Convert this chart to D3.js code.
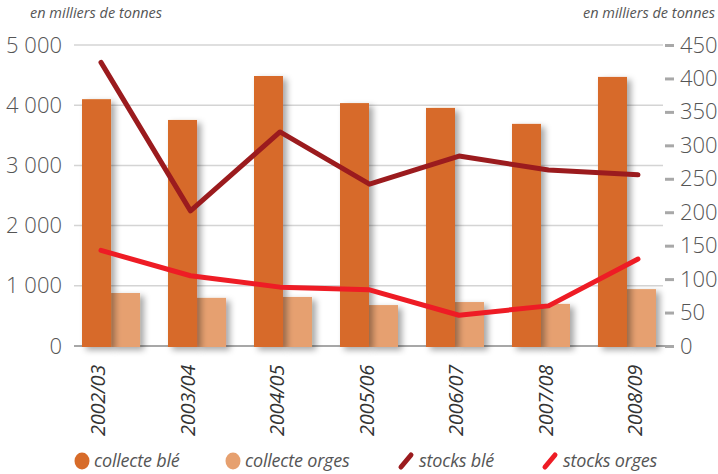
<!DOCTYPE html>
<html>
<head>
<meta charset="utf-8">
<script src="https://d3js.org/d3.v7.min.js"></script>
<style>
  body { margin: 0; background: #fff; }
  svg { display: block; font-family: "Open Sans", sans-serif; }
</style>
</head>
<body>
<div id="chartDiv"></div>
<script>
// data
var campagnes = ["2002/03", "2003/04", "2004/05", "2005/06", "2006/07", "2007/08", "2008/09"];
var collecteBle = [4100, 3755, 4485, 4035, 3955, 3690, 4470];
var collecteOrges = [880, 800, 815, 680, 730, 700, 945];
var stocksBle = [424, 202, 320, 242, 284, 263, 256];
var stocksOrges = [143, 105, 88, 84, 46, 60, 130];
var leftTicks = [0, 1000, 2000, 3000, 4000, 5000];
var rightTicks = [0, 50, 100, 150, 200, 250, 300, 350, 400, 450];
var legendItems = [
    { label: "collecte blé", type: "dot", color: "#d76b29" },
    { label: "collecte orges", type: "dot", color: "#e6a06f" },
    { label: "stocks blé", type: "line", color: "#9b1b1e" },
    { label: "stocks orges", type: "line", color: "#ee1c25" }
];

(function () {
    var width = 718, height = 474;
    var textColor = "#555";

    var svg = d3.select("#chartDiv").append("svg")
        .attr("width", width)
        .attr("height", height);

    // shadow under the bars
    var filter = svg.append("defs").append("filter")
        .attr("id", "barShadow")
        .attr("x", "-20%").attr("y", "-10%")
        .attr("width", "160%").attr("height", "130%");
    filter.append("feDropShadow")
        .attr("dx", 4).attr("dy", 3)
        .attr("stdDeviation", 3)
        .attr("flood-color", "#000")
        .attr("flood-opacity", 0.35);

    var fr = d3.formatLocale({ decimal: ",", thousands: " ", grouping: [3], currency: ["", " €"] });
    var fmt = fr.format(",d");

    var x = d3.scaleBand().domain(campagnes).range([68, 670])
        .paddingInner(0.3256).paddingOuter(0.163);
    var xSub = d3.scaleBand().domain(["ble", "orges"]).range([0, x.bandwidth()]);
    var xLine = d3.scalePoint().domain(campagnes).range([101, 638]);
    var yLeft = d3.scaleLinear().domain([0, 5000]).range([346, 45]);
    var yRight = d3.scaleLinear().domain([0, 450]).range([346, 45]);

    // grid
    svg.append("g").selectAll("line")
        .data(leftTicks.filter(function (d) { return d > 0; }))
        .enter().append("line")
        .attr("x1", 74).attr("x2", 663)
        .attr("y1", function (d) { return yLeft(d); })
        .attr("y2", function (d) { return yLeft(d); })
        .attr("stroke", "#d4d4d4")
        .attr("stroke-width", 1.5);
    svg.append("line")
        .attr("x1", 74).attr("x2", 666)
        .attr("y1", yLeft(0)).attr("y2", yLeft(0))
        .attr("stroke", "#8a8a8a")
        .attr("stroke-width", 1.5);

    // left axis
    var axisLeft = svg.append("g")
        .attr("transform", "translate(74,0)")
        .call(d3.axisLeft(yLeft).tickValues(leftTicks).tickFormat(fmt).tickSize(0).tickPadding(12));
    axisLeft.select(".domain").remove();
    axisLeft.selectAll("text")
        .attr("fill", textColor)
        .style("font-size", "22px")
        .style("font-weight", 300)
        .style("font-family", "'Open Sans', sans-serif");

    // right axis
    var axisRight = svg.append("g")
        .attr("transform", "translate(665,0)")
        .call(d3.axisRight(yRight).tickValues(rightTicks).tickSize(9).tickPadding(6));
    axisRight.select(".domain").remove();
    axisRight.selectAll("line")
        .attr("stroke", "#a8a8a8")
        .attr("stroke-width", 3);
    axisRight.selectAll("text")
        .attr("fill", textColor)
        .style("font-size", "22px")
        .style("font-weight", 300)
        .style("font-family", "'Open Sans', sans-serif");

    // bars
    var groups = svg.append("g").selectAll("g")
        .data(campagnes)
        .enter().append("g")
        .attr("transform", function (d) { return "translate(" + x(d) + ",0)"; });
    groups.append("rect")
        .attr("x", xSub("orges"))
        .attr("width", xSub.bandwidth())
        .attr("y", function (d, i) { return yLeft(collecteOrges[i]); })
        .attr("height", function (d, i) { return yLeft(0) - yLeft(collecteOrges[i]) + 1; })
        .attr("fill", "#e6a06f")
        .attr("filter", "url(#barShadow)");
    groups.append("rect")
        .attr("x", xSub("ble"))
        .attr("width", xSub.bandwidth())
        .attr("y", function (d, i) { return yLeft(collecteBle[i]); })
        .attr("height", function (d, i) { return yLeft(0) - yLeft(collecteBle[i]) + 1; })
        .attr("fill", "#d76b29")
        .attr("filter", "url(#barShadow)");

    // stock lines
    var lineGen = d3.line()
        .x(function (d, i) { return xLine(campagnes[i]); })
        .y(function (d) { return yRight(d); });
    svg.append("path")
        .datum(stocksOrges)
        .attr("d", lineGen)
        .attr("fill", "none")
        .attr("stroke", "#ee1c25")
        .attr("stroke-width", 5)
        .attr("stroke-linejoin", "round")
        .attr("stroke-linecap", "round");
    svg.append("path")
        .datum(stocksBle)
        .attr("d", lineGen)
        .attr("fill", "none")
        .attr("stroke", "#9b1b1e")
        .attr("stroke-width", 5)
        .attr("stroke-linejoin", "round")
        .attr("stroke-linecap", "round");

    // category labels
    svg.append("g").selectAll("text")
        .data(campagnes)
        .enter().append("text")
        .attr("transform", function (d) { return "translate(" + (xLine(d) + 4) + ",365) rotate(-90)"; })
        .attr("text-anchor", "end")
        .attr("fill", "#333")
        .style("font-size", "20px")
        .style("font-style", "italic")
        .style("letter-spacing", "-0.3px")
        .text(function (d) { return d; });

    // unit titles
    svg.append("text")
        .attr("x", 30).attr("y", 18)
        .attr("fill", textColor)
        .style("font-size", "14.5px")
        .style("font-style", "italic")
        .text("en milliers de tonnes");
    svg.append("text")
        .attr("x", 715).attr("y", 18)
        .attr("text-anchor", "end")
        .attr("fill", textColor)
        .style("font-size", "14.5px")
        .style("font-style", "italic")
        .text("en milliers de tonnes");

    // legend
    var legendX = [82, 233, 406, 550];
    var legend = svg.append("g").selectAll("g")
        .data(legendItems)
        .enter().append("g")
        .attr("transform", function (d, i) { return "translate(" + legendX[i] + ",461)"; });
    legend.filter(function (d) { return d.type === "dot"; })
        .append("ellipse")
        .attr("rx", 7.5).attr("ry", 8.5)
        .attr("fill", function (d) { return d.color; });
    legend.filter(function (d) { return d.type === "line"; })
        .append("line")
        .attr("x1", -5).attr("y1", 6)
        .attr("x2", 5).attr("y2", -6)
        .attr("stroke", function (d) { return d.color; })
        .attr("stroke-width", 5)
        .attr("stroke-linecap", "round");
    legend.append("text")
        .attr("x", function (d) { return d.type === "dot" ? 12 : 13; })
        .attr("y", 6)
        .attr("fill", textColor)
        .style("font-size", "18px")
        .style("font-style", "italic")
        .style("letter-spacing", "-0.2px")
        .text(function (d) { return d.label; });
})();
</script>
</body>
</html>
